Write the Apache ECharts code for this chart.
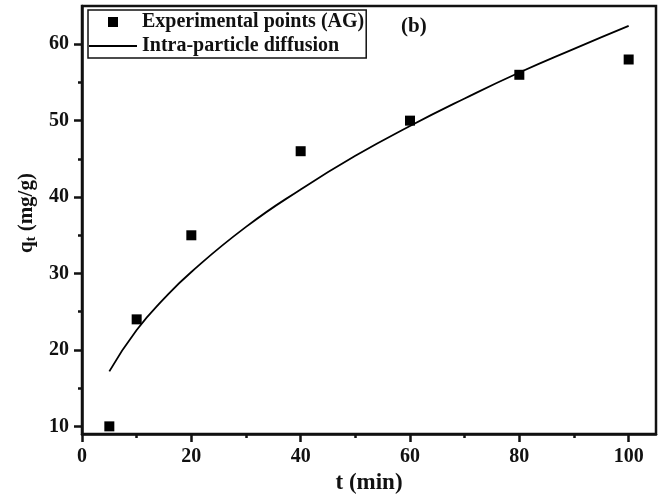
<!DOCTYPE html>
<html>
<head>
<meta charset="utf-8">
<script src="https://cdn.jsdelivr.net/npm/echarts@6/dist/echarts.min.js"></script>
<style>
  html, body { margin: 0; padding: 0; background: #fff; }
  #chart { width: 665px; height: 494px; }
</style>
</head>
<body>
<div id="chart"></div>
<script>
// Experimental points (AG)
var expT = [5, 10, 20, 40, 60, 80, 100];
var expQ = [10, 24, 35, 46, 50, 56, 58];

// Intra-particle diffusion fitted curve
var curveT = [5, 10, 15, 20, 30, 40, 50, 60, 70, 80, 90, 100];
var curveQ = [17.2, 22.6, 26.7, 30.2, 36.1, 41.0, 45.4, 49.3, 52.9, 56.3, 59.4, 62.4];

// Tick values
var xMajorTicks = [0, 20, 40, 60, 80, 100];
var xMinorTicks = [10, 30, 50, 70, 90];
var yMajorTicks = [10, 20, 30, 40, 50, 60];
var yMinorTicks = [15, 25, 35, 45, 55];

var seriesNames = ['Experimental points (AG)', 'Intra-particle diffusion'];

var FONT = "'Liberation Serif', 'Times New Roman', serif";

function pairs(xs, ys) {
  return xs.map(function (x, i) { return [x, ys[i]]; });
}

var chart = echarts.init(document.getElementById('chart'), null, { renderer: 'canvas' });

chart.setOption({
  backgroundColor: '#fff',
  animation: false,
  title: {
    text: '(b)',
    left: 396,
    top: 11,
    textStyle: { color: '#111', fontFamily: FONT, fontWeight: 'bold', fontSize: 21 }
  },
  legend: {
    orient: 'vertical',
    left: 88,
    top: 10,
    padding: [2, 2, 2, 0],
    itemGap: 4,
    itemWidth: 48,
    itemHeight: 10,
    borderColor: '#111',
    borderWidth: 1.5,
    backgroundColor: '#fff',
    textStyle: { color: '#111', fontFamily: FONT, fontWeight: 'bold', fontSize: 20, lineHeight: 20 },
    data: [
      { name: seriesNames[0], icon: 'path://M0 0H10V10H0Z', itemStyle: { color: '#000', opacity: 1 } },
      { name: seriesNames[1], itemStyle: { color: 'rgba(0,0,0,0)', borderWidth: 0 } }
    ]
  },
  grid: {
    left: 82, right: 9, top: 6, bottom: 60,
    outerBoundsMode: 'none',
    containLabel: false,
    show: true,
    borderColor: '#111',
    borderWidth: 2.5,
    backgroundColor: 'transparent'
  },
  xAxis: [
    {
      type: 'value',
      min: 0, max: 105,
      position: 'bottom',
      name: 't (min)',
      nameLocation: 'middle',
      nameGap: 35,
      nameTextStyle: { color: '#111', fontFamily: FONT, fontWeight: 'bold', fontSize: 23 },
      axisLine: { show: true, onZero: false, lineStyle: { color: '#111', width: 2.5 } },
      axisTick: { show: true, customValues: xMajorTicks, length: 8, lineStyle: { color: '#111', width: 2.5 } },
      axisLabel: { customValues: xMajorTicks, margin: 13, color: '#111', fontFamily: FONT, fontWeight: 'bold', fontSize: 20 },
      splitLine: { show: false }
    },
    {
      type: 'value',
      min: 0, max: 105,
      position: 'bottom',
      axisLine: { show: false, onZero: false },
      axisTick: { show: true, customValues: xMinorTicks, length: 4, lineStyle: { color: '#111', width: 2.5 } },
      axisLabel: { show: false },
      splitLine: { show: false }
    }
  ],
  yAxis: [
    {
      type: 'value',
      min: 9, max: 65,
      position: 'left',
      name: '{q|q}{s|t}{n| (mg/g)}',
      nameLocation: 'middle',
      nameGap: 43,
      nameTextStyle: {
        color: '#111', fontFamily: FONT, fontWeight: 'bold', fontSize: 21,
        padding: [0, 0, 0, 14],
        rich: {
          q: { fontFamily: FONT, fontWeight: 'bold', fontSize: 21, color: '#111', lineHeight: 24 },
          s: { fontFamily: FONT, fontWeight: 'bold', fontSize: 14, color: '#111', lineHeight: 24, verticalAlign: 'bottom', padding: [7, 0, 0, 0] },
          n: { fontFamily: FONT, fontWeight: 'bold', fontSize: 21, color: '#111', lineHeight: 24 }
        }
      },
      axisLine: { show: true, onZero: false, lineStyle: { color: '#111', width: 2.5 } },
      axisTick: { show: true, customValues: yMajorTicks, length: 8, lineStyle: { color: '#111', width: 2.5 } },
      axisLabel: { customValues: yMajorTicks, margin: 13, color: '#111', fontFamily: FONT, fontWeight: 'bold', fontSize: 20 },
      splitLine: { show: false }
    },
    {
      type: 'value',
      min: 9, max: 65,
      position: 'left',
      axisLine: { show: false, onZero: false },
      axisTick: { show: true, customValues: yMinorTicks, length: 4, lineStyle: { color: '#111', width: 2.5 } },
      axisLabel: { show: false },
      splitLine: { show: false }
    }
  ],
  series: [
    {
      name: seriesNames[0],
      type: 'scatter',
      xAxisIndex: 0, yAxisIndex: 0,
      symbol: 'rect',
      symbolSize: 10,
      itemStyle: { color: '#000', opacity: 1 },
      data: pairs(expT, expQ),
      z: 3
    },
    {
      name: seriesNames[1],
      type: 'line',
      xAxisIndex: 0, yAxisIndex: 0,
      smooth: true,
      symbol: 'none',
      showSymbol: false,
      lineStyle: { color: '#000', width: 1.8 },
      itemStyle: { color: '#000' },
      data: pairs(curveT, curveQ),
      z: 2
    }
  ]
});
</script>
</body>
</html>
